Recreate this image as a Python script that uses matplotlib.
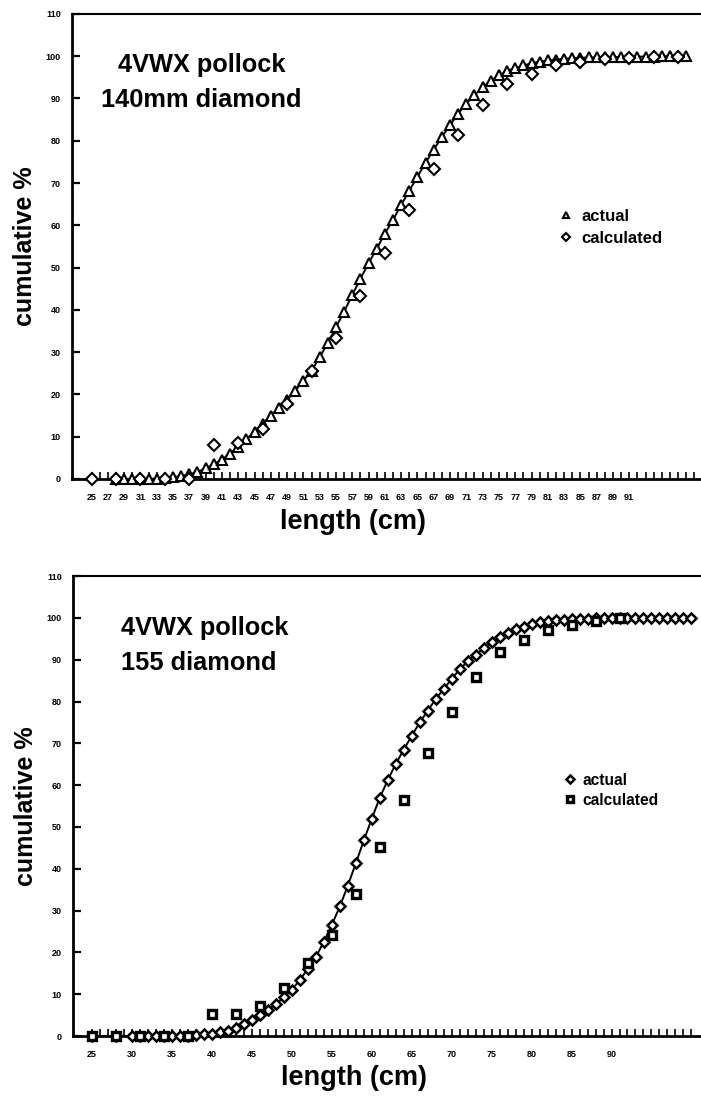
import matplotlib.pyplot as plt

plt.rcParams["font.family"] = ["Liberation Sans", "DejaVu Sans"]
plt.rcParams["font.weight"] = "bold"

# ---- top panel: 140mm diamond ----
top_len_actual = list(range(28, 99))
top_actual = [0, 0, 0, 0, 0, 0.1, 0.2, 0.4, 0.7, 1.1,
              1.7, 2.5, 3.5, 4.6, 6.0, 7.6, 9.4, 11.2, 13.1, 15.0,
              16.8, 18.6, 20.9, 23.2, 25.6, 28.8, 32.2, 35.9, 39.6, 43.5,
              47.4, 51.0, 54.5, 58.0, 61.3, 64.8, 68.2, 71.5, 74.8, 77.9,
              80.9, 83.7, 86.4, 88.8, 90.8, 92.6, 94.2, 95.5, 96.5, 97.2,
              97.8, 98.3, 98.7, 99.0, 99.2, 99.4, 99.5, 99.6, 99.7, 99.7,
              99.8, 99.8, 99.8, 99.9, 99.9, 99.9, 99.9, 100, 100, 100, 100]
top_len_calc = [25, 28, 31, 34, 37, 40, 43, 46, 49, 52, 55, 58, 61,
                64, 67, 70, 73, 76, 79, 82, 85, 88, 91, 94, 97]
top_calc = [0, 0, 0, 0, 0, 8.0, 8.6, 11.8, 17.7, 25.5, 33.3, 43.3, 53.5,
            63.7, 73.2, 81.3, 88.4, 93.5, 95.7, 97.9, 98.7, 99.3, 99.6, 99.8, 99.9]
top_tick_labels = list(range(25, 92, 2))

# ---- bottom panel: 155 diamond ----
bot_len_actual = [25, 28] + list(range(30, 101))
bot_actual = [0, 0,
              0, 0, 0, 0, 0, 0, 0, 0.1, 0.2, 0.4,
              0.6, 0.9, 1.3, 1.9, 2.8, 3.8, 5.0, 6.3, 7.7, 9.3,
              11.1, 13.4, 16.1, 18.9, 22.6, 26.6, 31.0, 36.0, 41.3, 46.8,
              52.0, 57.0, 61.2, 65.1, 68.5, 71.8, 75.0, 77.8, 80.6, 83.0,
              85.4, 87.7, 89.6, 91.2, 92.7, 94.2, 95.4, 96.4, 97.3, 97.9,
              98.5, 99.0, 99.3, 99.5, 99.6, 99.7, 99.8, 99.8, 99.9, 99.9,
              99.9, 100, 100, 100, 100, 100, 100, 100, 100, 100, 100]
bot_len_calc = [25, 28, 31, 34, 37, 40, 43, 46, 49, 52, 55, 58,
                61, 64, 67, 70, 73, 76, 79, 82, 85, 88, 91]
bot_calc = [0, 0, 0, 0, 0, 5.2, 5.3, 7.3, 11.4, 17.4, 24.2, 34.0,
            45.1, 56.5, 67.8, 77.5, 85.8, 91.9, 94.7, 97.1, 98.3, 99.3, 99.9]
bot_tick_labels = list(range(25, 91, 5))

fig = plt.figure(figsize=(7.01, 10.96), dpi=100)
ax1 = fig.add_axes([0.1027, 0.5630, 0.8973, 0.4243])
ax2 = fig.add_axes([0.1041, 0.0547, 0.8959, 0.4197])


def style_axes(ax, xlim, ticks, labelled):
    ax.set_xlim(*xlim)
    ax.set_ylim(0, 110)
    ax.set_yticks(range(0, 111, 10))
    ax.set_xticks(ticks)
    ax.set_xticklabels([str(t) if t in labelled else '' for t in ticks])
    ax.tick_params(axis='x', direction='in', length=5, width=1.2,
                   labelsize=6.5, pad=10)
    ax.tick_params(axis='y', direction='in', length=6, width=1.6,
                   labelsize=6.5, pad=8)
    ax.spines['right'].set_visible(False)
    ax.spines['left'].set_linewidth(2)
    ax.spines['bottom'].set_linewidth(2)
    ax.spines['top'].set_linewidth(1.5)
    ax.set_ylabel('cumulative %', fontsize=18, fontweight='bold')
    ax.set_xlabel('length (cm)', fontsize=19.5, fontweight='bold')
    ax.yaxis.set_label_coords(-0.056, 0.5)
    ax.xaxis.set_label_coords(0.4475, -0.064)


# top chart
ax1.plot(top_len_actual, top_actual, color='black', lw=1.4, zorder=2)
ax1.plot(top_len_actual, top_actual, ls='none', marker='^', ms=6.5,
         mfc='white', mec='black', mew=1.5, clip_on=False, zorder=3,
         label='actual')
ax1.plot(top_len_calc, top_calc, ls='none', marker='D', ms=6,
         mfc='white', mec='black', mew=1.5, clip_on=False, zorder=4,
         label='calculated')
style_axes(ax1, (22.6, 99.8), list(range(25, 100)), top_tick_labels)
ax1.text(38.5, 96.3, '4VWX pollock', ha='center', va='baseline',
         fontsize=18.3, fontweight='bold')
ax1.text(38.5, 88.0, '140mm diamond', ha='center', va='baseline',
         fontsize=18.3, fontweight='bold')
ax1.legend(loc='upper left', bbox_to_anchor=(0.772, 0.581), frameon=False,
           handlelength=1, handletextpad=0.45, borderpad=0, borderaxespad=0,
           labelspacing=0.43, markerscale=0.75,
           prop={'size': 12, 'weight': 'bold'})

# bottom chart
ax2.plot(bot_len_actual, bot_actual, color='black', lw=1.4, zorder=2)
ax2.plot(bot_len_actual, bot_actual, ls='none', marker='D', ms=5,
         mfc='white', mec='black', mew=1.8, clip_on=False, zorder=3,
         label='actual')
ax2.plot(bot_len_calc, bot_calc, ls='none', marker='s', ms=5.2,
         mfc='white', mec='black', mew=2.4, clip_on=False, zorder=4,
         label='calculated')
style_axes(ax2, (22.6, 101.2), list(range(25, 101)), bot_tick_labels)
ax2.text(28.6, 95.9, '4VWX pollock', ha='left', va='baseline',
         fontsize=18.3, fontweight='bold')
ax2.text(28.6, 87.6, '155 diamond', ha='left', va='baseline',
         fontsize=18.3, fontweight='bold')
ax2.legend(loc='upper left', bbox_to_anchor=(0.779, 0.572), frameon=False,
           handlelength=1, handletextpad=0.3, borderpad=0, borderaxespad=0,
           labelspacing=0.3, markerscale=0.9,
           prop={'size': 11.2, 'weight': 'bold'})

fig.savefig('out.png', dpi=100)
